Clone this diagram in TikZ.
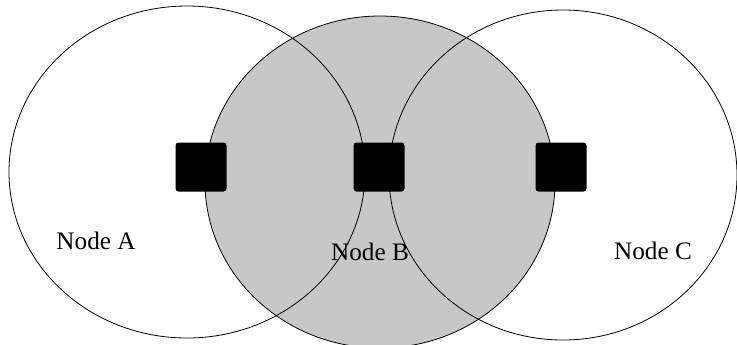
\documentclass[tikz,border=0pt]{standalone}
\usepackage{fontspec}
\setmainfont{Liberation Serif}
\usepackage{tikz}
\usetikzlibrary{positioning}
\colorlet{rangeB}{black!22}
\tikzset{
  coverage/.style={draw=black,line width=0.4pt},
  radio/.style={fill=black,draw=none,rounded corners=1.5pt,minimum width=25.5pt,minimum height=24.5pt,inner sep=0pt},
  nodelabel/.style={font=\fontsize{12.6}{15}\selectfont,inner sep=0pt}
}

\begin{document}
\begin{tikzpicture}[x=0.5pt,y=-0.5pt]
\useasboundingbox (0,0) rectangle (737,344);
% shaded coverage of node B, then the open coverages of A and C
\fill[rangeB] (380,182) ellipse [x radius=175,y radius=166];
\draw[coverage] (380,182) ellipse [x radius=175,y radius=166];
\draw[coverage] (187,172) ellipse [x radius=178,y radius=166];
\draw[coverage] (563,175) ellipse [x radius=174,y radius=165];
% radios
\node[radio] (radioA) at (201,167) {};
\node[radio] (radioB) at (379,167) {};
\node[radio] (radioC) at (561,167) {};
\node[nodelabel] (labelA) at (96,241) {Node A};
\node[nodelabel] (labelB) at (370,252) {Node B};
\node[nodelabel] (labelC) at (653,251) {Node C};
\end{tikzpicture}
\end{document}
